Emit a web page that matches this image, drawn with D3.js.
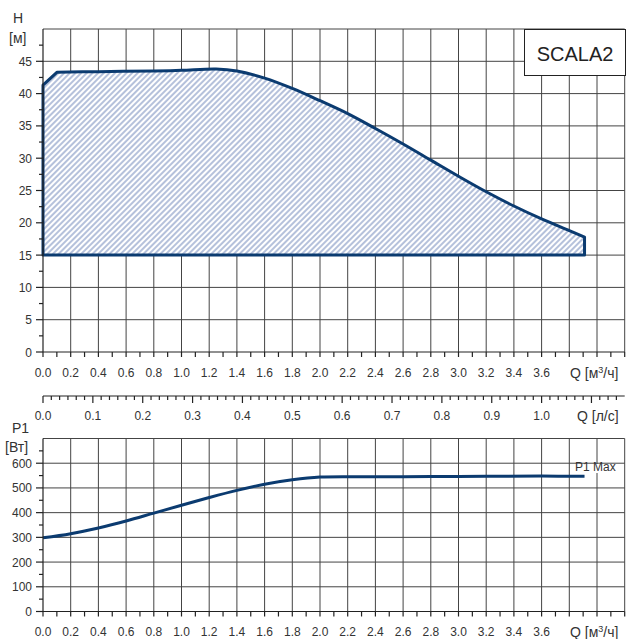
<!DOCTYPE html>
<html>
<head>
<meta charset="utf-8">
<script src="https://cdn.jsdelivr.net/npm/d3@7/dist/d3.min.js"></script>
<style>
  body { margin: 0; background: #fff; }
  svg text { font-family: "Liberation Sans", Arial, sans-serif; fill: #333; }
</style>
</head>
<body>
<svg id="chart" width="626" height="639"></svg>
<script>
// H curve (m³/h vs m); closed down to 15 m at both ends
const headQ = [0.1, 0.4, 0.8, 1.0, 1.25, 1.4, 1.6, 1.8, 2.0, 2.2, 2.4, 2.6, 2.8, 3.0, 3.2, 3.4, 3.6, 3.8, 3.91];
const headH = [43.3, 43.4, 43.5, 43.6, 43.8, 43.5, 42.4, 40.8, 38.9, 36.9, 34.6, 32.2, 29.7, 27.2, 24.8, 22.6, 20.6, 18.8, 17.8];
const headStart = 41.3;   // H at Q = 0
const headMin = 15;       // lower edge of the band

// P1 curve (m³/h vs W)
const powerQ = [0, 0.2, 0.4, 0.6, 0.8, 1.0, 1.2, 1.4, 1.6, 1.8, 2.0, 2.4, 2.8, 3.2, 3.6, 3.91];
const powerP = [298, 315, 338, 366, 398, 430, 461, 490, 515, 533, 544, 545, 546, 547, 548, 547];

const qTicks = d3.range(0, 3.61, 0.2);          // labelled m³/h ticks
const lsTicks = d3.range(0, 1.01, 0.1);         // labelled l/s ticks
const hTicks = d3.range(0, 46, 5);
const pTicks = d3.range(0, 601, 100);

const svg = d3.select("#chart");
const x = d3.scaleLinear().domain([0, 4.2]).range([43, 624.7]);
const yH = d3.scaleLinear().domain([0, 50]).range([352, 29]);
const yP = d3.scaleLinear().domain([0, 700]).range([611.5, 438.5]);
const f1 = d3.format(".1f");
const GRID = "#444";

const defs = svg.append("defs");
const pat = defs.append("pattern").attr("id", "hatch")
  .attr("patternUnits", "userSpaceOnUse").attr("width", 4).attr("height", 4)
  .attr("patternTransform", "rotate(45)");
pat.append("rect").attr("width", 4).attr("height", 4).attr("fill", "#fff");
pat.append("line").attr("x1", 1).attr("y1", 0).attr("x2", 1).attr("y2", 4)
  .attr("stroke", "#9cadd0").attr("stroke-width", 1.5);

function grid(y, yMax, yStep) {
  const g = svg.append("g").attr("stroke", GRID).attr("stroke-width", 1);
  d3.range(0.2, 4.21, 0.2).forEach(q => {
    g.append("line").attr("x1", x(q)).attr("x2", x(q))
      .attr("y1", y(0)).attr("y2", y(yMax));
  });
  d3.range(yStep, yMax + 0.01, yStep).forEach(v => {
    g.append("line").attr("x1", x(0)).attr("x2", x(4.2))
      .attr("y1", y(v)).attr("y2", y(v));
  });
}

function axes(y, yMax, yTicks, minorStep, labelY) {
  const g = svg.append("g").attr("stroke", "#222").attr("stroke-width", 1.2);
  g.append("line").attr("x1", x(0)).attr("x2", x(0)).attr("y1", y(0)).attr("y2", y(yMax));
  g.append("line").attr("x1", x(0)).attr("x2", x(4.2)).attr("y1", y(0)).attr("y2", y(0));
  d3.range(0, 4.21, 0.1).forEach(q => {
    g.append("line").attr("x1", x(q)).attr("x2", x(q)).attr("y1", y(0)).attr("y2", y(0) + 5);
  });
  yTicks.forEach(v => {
    g.append("line").attr("x1", x(0) - 7).attr("x2", x(0)).attr("y1", y(v)).attr("y2", y(v));
  });
  d3.range(minorStep, yMax, minorStep * 2).forEach(v => {
    g.append("line").attr("x1", x(0) - 4).attr("x2", x(0)).attr("y1", y(v)).attr("y2", y(v));
  });
  svg.append("g").selectAll("text").data(yTicks).join("text")
    .attr("x", 32).attr("y", v => y(v) + 4.5).attr("text-anchor", "end")
    .attr("font-size", 12).text(v => v);
  svg.append("g").selectAll("text").data(qTicks).join("text")
    .attr("x", q => x(q)).attr("y", labelY).attr("text-anchor", "middle")
    .attr("font-size", 12).text(f1);
  const t = svg.append("text").attr("x", 570).attr("y", labelY + 1).attr("font-size", 14);
  t.append("tspan").text("Q [м");
  t.append("tspan").attr("font-size", 9).attr("dy", -5).text("3");
  t.append("tspan").attr("dy", 5).text("/ч]");
}

// ---- top chart: H ----
grid(yH, 50, 5);

const curve = d3.line().x(d => x(d[0])).y(d => yH(d[1])).curve(d3.curveCatmullRom.alpha(0.5));
const pts = headQ.map((q, i) => [q, headH[i]]);
const qEnd = headQ[headQ.length - 1];
const area = `M${x(0)},${yH(headMin)}L${x(0)},${yH(headStart)}`
  + curve(pts).replace(/^M/, "L")
  + `L${x(qEnd)},${yH(headMin)}Z`;
svg.append("path").attr("d", area).attr("fill", "url(#hatch)")
  .attr("stroke", "#0b3b70").attr("stroke-width", 3).attr("stroke-linejoin", "round");

axes(yH, 50, hTicks, 2.5, 377);

svg.append("text").attr("x", 13).attr("y", 23).attr("font-size", 14).text("H");
svg.append("text").attr("x", 9).attr("y", 43).attr("font-size", 14).text("[м]");

svg.append("rect").attr("x", 524.5).attr("y", 29.5).attr("width", 101).attr("height", 46)
  .attr("fill", "#fff").attr("stroke", "#222").attr("stroke-width", 1);
svg.append("text").attr("x", 575).attr("y", 61).attr("text-anchor", "middle")
  .attr("font-size", 20).style("fill", "#222").text("SCALA2");

// ---- middle axis: l/s ----
const ls = q => x(q * 3.6);
const mid = svg.append("g").attr("stroke", "#222").attr("stroke-width", 1.2);
const yM = 396;
mid.append("line").attr("x1", x(0)).attr("x2", x(4.2)).attr("y1", yM).attr("y2", yM);
d3.range(0, 4.2 / 3.6, 0.1 / 6).forEach((v, i) => {
  mid.append("line").attr("x1", ls(v)).attr("x2", ls(v))
    .attr("y1", yM).attr("y2", yM + (i % 6 === 0 ? 7 : 4));
});
svg.append("g").selectAll("text").data(lsTicks).join("text")
  .attr("x", v => ls(v)).attr("y", 420).attr("text-anchor", "middle")
  .attr("font-size", 12).text(f1);
svg.append("text").attr("x", 577).attr("y", 421).attr("font-size", 14).text("Q [л/с]");

// ---- bottom chart: P1 ----
grid(yP, 700, 100);
const pLine = d3.line().x(d => x(d[0])).y(d => yP(d[1])).curve(d3.curveCatmullRom.alpha(0.5));
svg.append("path").attr("d", pLine(powerQ.map((q, i) => [q, powerP[i]])))
  .attr("fill", "none").attr("stroke", "#0b3b70").attr("stroke-width", 3);
axes(yP, 700, pTicks, 50, 636);

svg.append("text").attr("x", 12).attr("y", 433).attr("font-size", 14).text("P1");
svg.append("text").attr("x", 5).attr("y", 452).attr("font-size", 14).text("[Вт]");
const pm = svg.append("g");
pm.append("rect").attr("x", 574).attr("y", 464).attr("width", 44).attr("height", 9).attr("fill", "#fff");
pm.append("text").attr("x", 575).attr("y", 471).attr("font-size", 12).text("P1 Max");
</script>
</body>
</html>
